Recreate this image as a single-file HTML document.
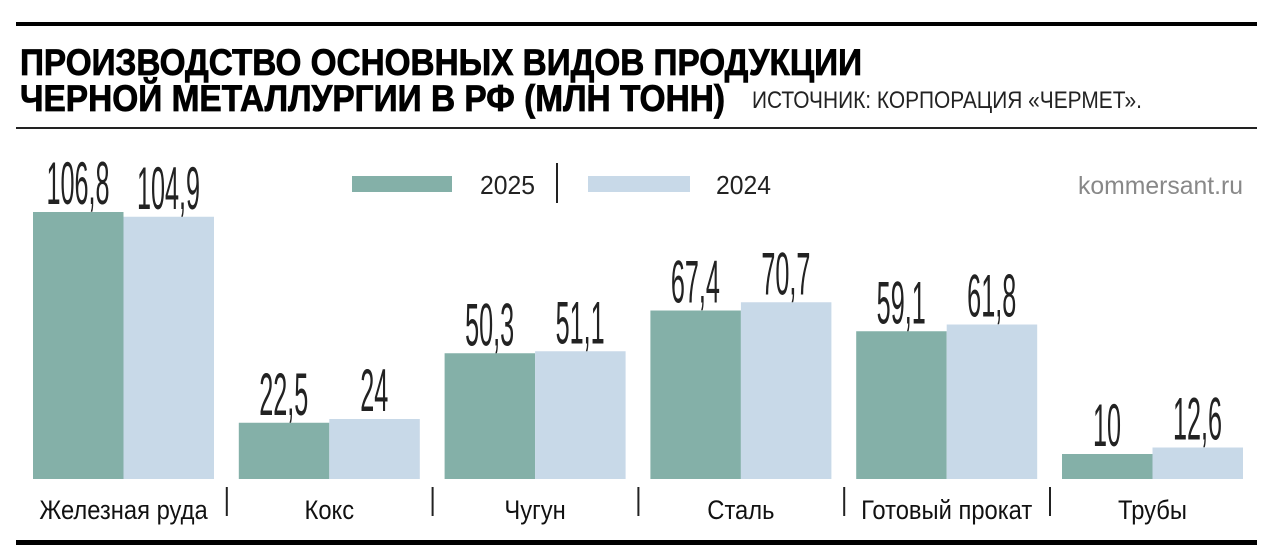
<!DOCTYPE html>
<html><head><meta charset="utf-8"><style>
html,body{margin:0;padding:0;background:#fff;}
svg{display:block;}
text{font-family:"Liberation Sans",sans-serif;}
</style></head><body>
<svg width="1280" height="558" viewBox="0 0 1280 558" xmlns="http://www.w3.org/2000/svg">
<rect x="16" y="22" width="1241" height="4" fill="#000"/>
<text x="20" y="75" font-size="37" font-weight="bold" textLength="842" lengthAdjust="spacingAndGlyphs" stroke="#000" stroke-width="0.8">ПРОИЗВОДСТВО ОСНОВНЫХ ВИДОВ ПРОДУКЦИИ</text>
<text x="20" y="111" font-size="37" font-weight="bold" textLength="705" lengthAdjust="spacingAndGlyphs" stroke="#000" stroke-width="0.8">ЧЕРНОЙ МЕТАЛЛУРГИИ В РФ (МЛН ТОНН)</text>
<text x="752" y="108" font-size="24" fill="#222" textLength="390" lengthAdjust="spacingAndGlyphs">ИСТОЧНИК: КОРПОРАЦИЯ «ЧЕРМЕТ».</text>
<rect x="16" y="127" width="1241" height="2" fill="#222"/>
<rect x="352" y="176" width="100" height="16" fill="#84b0a8"/>
<text x="480" y="194" font-size="26" fill="#222" textLength="55" lengthAdjust="spacingAndGlyphs">2025</text>
<rect x="556" y="163" width="2" height="40" fill="#222"/>
<rect x="588" y="176" width="102" height="16" fill="#c8d9e8"/>
<text x="716" y="194" font-size="26" fill="#222" textLength="55" lengthAdjust="spacingAndGlyphs">2024</text>
<text x="1243" y="194" font-size="25" fill="#888" text-anchor="end" textLength="165" lengthAdjust="spacingAndGlyphs">kommersant.ru</text>
<g id="bars"></g>
<rect x="16" y="540" width="1241" height="5" fill="#000"/>
</svg>
<script>
var d=[["Железная руда",106.8,104.9,"106,8","104,9"],["Кокс",22.5,24,"22,5","24"],["Чугун",50.3,51.1,"50,3","51,1"],["Сталь",67.4,70.7,"67,4","70,7"],["Готовый прокат",59.1,61.8,"59,1","61,8"],["Трубы",10,12.6,"10","12,6"]];
var g=document.getElementById('bars'),h="";
var base=479,k=2.5;
d.forEach(function(r,i){
 var x=33+i*205.8;
 var h1=r[1]*k,h2=r[2]*k;
 h+='<rect x="'+x+'" y="'+(base-h1)+'" width="90.5" height="'+h1+'" fill="#84b0a8"/>';
 h+='<rect x="'+(x+90.5)+'" y="'+(base-h2)+'" width="90.5" height="'+h2+'" fill="#c8d9e8"/>';
 [[r[3],x+45,h1],[r[4],x+135.5,h2]].forEach(function(v){
  var cx=v[1],y=base-v[2]-8;
  h+='<text transform="translate('+cx+','+y+') scale(0.42,1)" text-anchor="middle" font-size="60" fill="#222">'+v[0]+'</text>';
 });
 h+='<text transform="translate('+(x+90.5)+',519) scale(0.88,1)" text-anchor="middle" font-size="27" fill="#111">'+r[0]+'</text>';
 if(i>0)h+='<rect x="'+(x-13)+'" y="487" width="2" height="29" fill="#222"/>';
});
g.innerHTML=h;
</script>
</body></html>
